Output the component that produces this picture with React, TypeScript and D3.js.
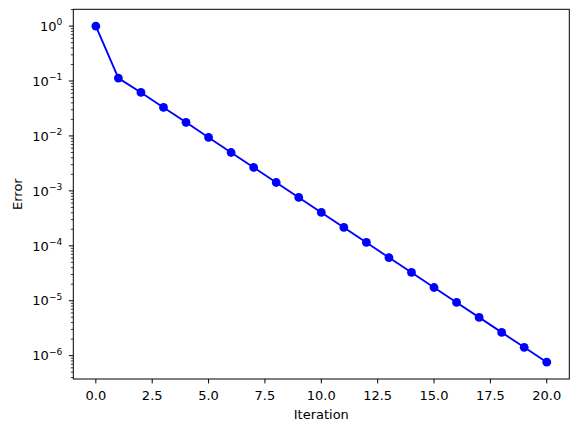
import React from "react";
import * as d3 from "d3";

const iterations = [0, 1, 2, 3, 4, 5, 6, 7, 8, 9, 10, 11, 12, 13, 14, 15, 16, 17, 18, 19, 20];
const errors = [
  1, 0.113, 0.062, 0.033, 0.0177, 0.0094, 0.005, 0.00267, 0.00142, 0.00076,
  0.000405, 0.000216, 0.000115, 6.1e-5, 3.27e-5, 1.74e-5, 9.3e-6, 4.97e-6,
  2.65e-6, 1.42e-6, 7.6e-7,
];
const xTicks = [0, 2.5, 5, 7.5, 10, 12.5, 15, 17.5, 20];
const yExponents = [0, -1, -2, -3, -4, -5, -6];

const W = 578;
const H = 432;
const L = 73.3;
const R = 569.3;
const T = 9.3;
const B = 379;
const FONT = "DejaVu Sans";
const FS = 13;

export default function App() {
  const x = d3.scaleLinear().domain([-1, 21]).range([L, R]);
  const lmin = Math.log10(d3.min(errors) as number);
  const lmax = Math.log10(d3.max(errors) as number);
  const m = (lmax - lmin) * 0.05;
  const y = d3
    .scaleLog()
    .domain([Math.pow(10, lmin - m), Math.pow(10, lmax + m)])
    .range([B, T]);
  const [d0, d1] = y.domain();
  const minor: number[] = [];
  for (let e = -8; e <= 1; e++) {
    for (let k = 2; k <= 9; k++) {
      const v = k * Math.pow(10, e);
      if (v >= d0 && v <= d1) minor.push(v);
    }
  }
  const line = d3
    .line<number>()
    .x((_, i) => x(iterations[i]))
    .y((d) => y(d));

  return (
    <svg width={W} height={H} style={{ position: "absolute", left: 0, top: 0 }}>
      <rect width={W} height={H} fill="white" />
      <path d={line(errors) || ""} fill="none" stroke="#0000ff" strokeWidth={1.875} strokeLinejoin="round" />
      {errors.map((d, i) => (
        <circle key={i} cx={x(iterations[i])} cy={y(d)} r={4.4} fill="#0000ff" />
      ))}
      <rect x={L} y={T} width={R - L} height={B - T} fill="none" stroke="black" strokeWidth={1} />
      {xTicks.map((t) => (
        <g key={t}>
          <line x1={x(t)} x2={x(t)} y1={B} y2={B + 4.4} stroke="black" strokeWidth={1} />
          <text x={x(t)} y={B + 21} textAnchor="middle" fontFamily={FONT} fontSize={FS} fill="black">
            {t.toFixed(1)}
          </text>
        </g>
      ))}
      {minor.map((v, i) => (
        <line key={i} x1={L - 2.5} x2={L} y1={y(v)} y2={y(v)} stroke="black" strokeWidth={0.75} />
      ))}
      {yExponents.map((e) => {
        const yy = y(Math.pow(10, e));
        return (
          <g key={e}>
            <line x1={L - 4.4} x2={L} y1={yy} y2={yy} stroke="black" strokeWidth={1} />
            <text x={L - 11} y={yy + 4.7} textAnchor="end" fontFamily={FONT} fontSize={FS} fill="black">
              10
              <tspan dy={-5.8} fontSize={FS * 0.7}>
                {e === 0 ? "0" : "\u2212" + Math.abs(e)}
              </tspan>
            </text>
          </g>
        );
      })}
      <text x={(L + R) / 2} y={419} textAnchor="middle" fontFamily={FONT} fontSize={FS} fill="black">
        Iteration
      </text>
      <text
        transform={`translate(21.5, ${(T + B) / 2}) rotate(-90)`}
        textAnchor="middle"
        fontFamily={FONT}
        fontSize={FS}
        fill="black"
      >
        Error
      </text>
    </svg>
  );
}
